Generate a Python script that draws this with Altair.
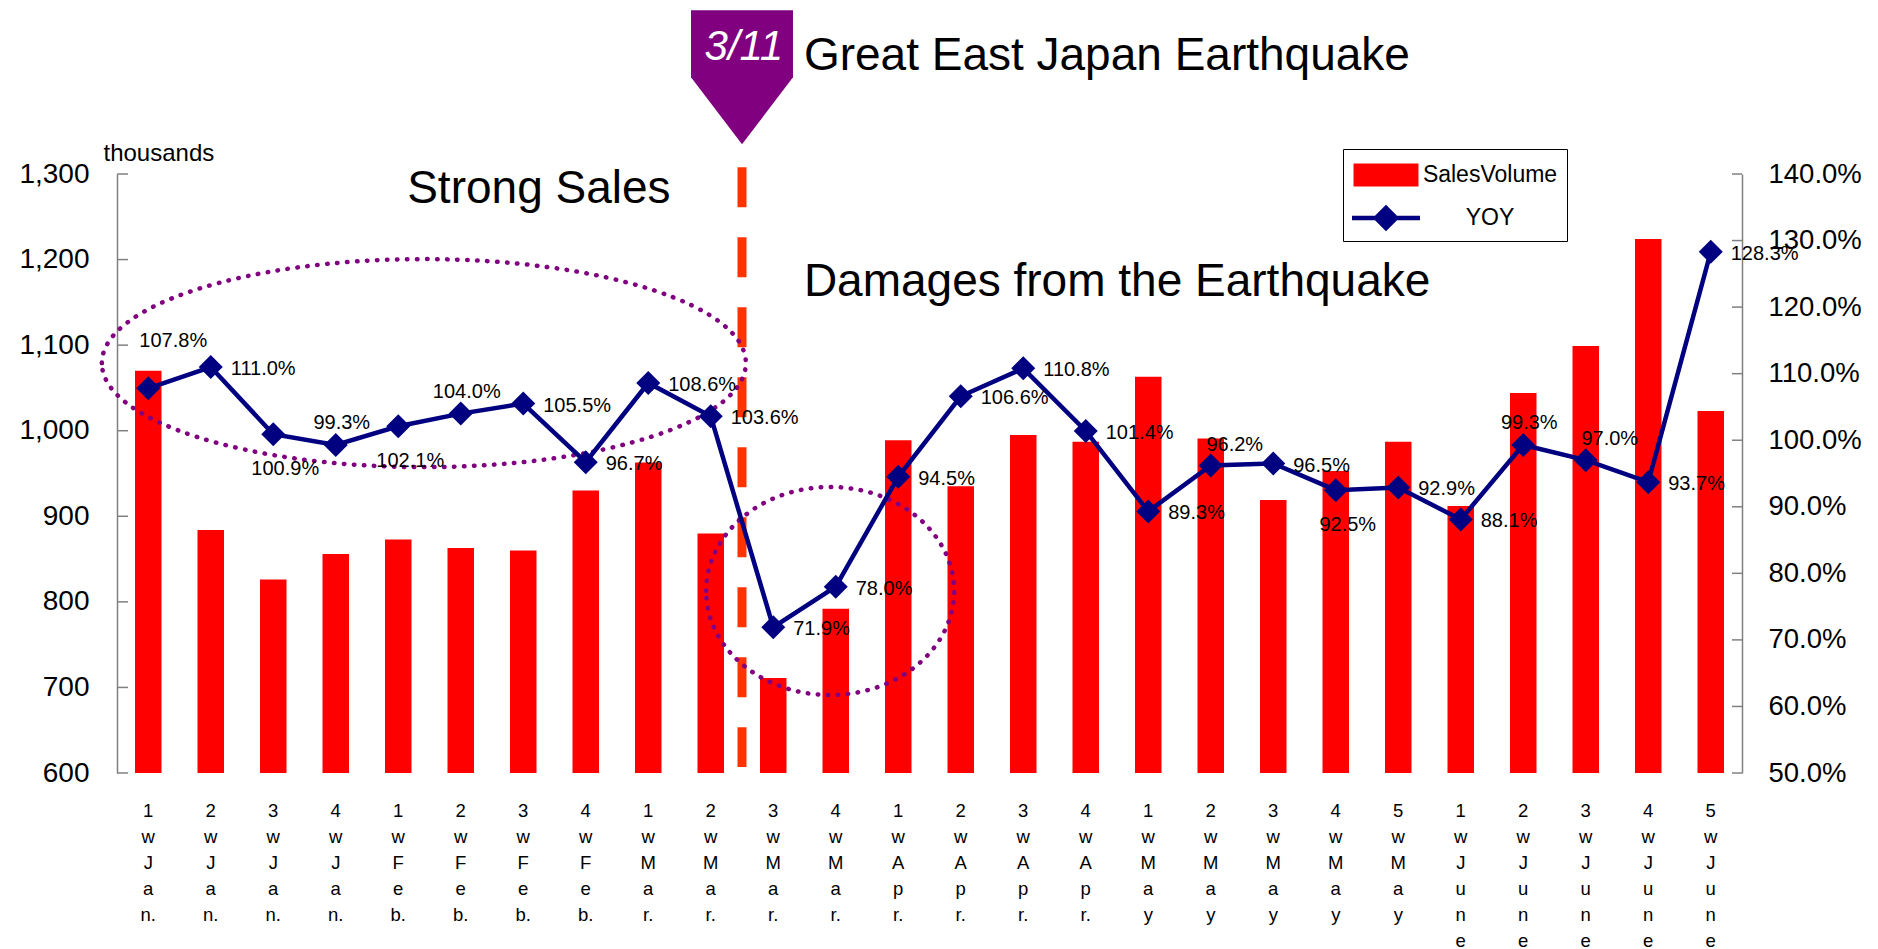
import altair as alt
import pandas as pd

# ---------------- data ----------------
WEEKS = [
    "1 w J a n.", "2 w J a n.", "3 w J a n.", "4 w J a n.",
    "1 w F e b.", "2 w F e b.", "3 w F e b.", "4 w F e b.",
    "1 w M a r.", "2 w M a r.", "3 w M a r.", "4 w M a r.",
    "1 w A p r.", "2 w A p r.", "3 w A p r.", "4 w A p r.",
    "1 w M a y", "2 w M a y", "3 w M a y", "4 w M a y", "5 w M a y",
    "1 w J u n e", "2 w J u n e", "3 w J u n e", "4 w J u n e", "5 w J u n e",
]
SALES = [1070, 884, 826, 856, 873, 863, 860, 930, 963, 880, 711, 792, 989,
         935, 995, 987, 1063, 991, 919, 953, 987, 912, 1044, 1099, 1224, 1023]
YOY = [107.8, 111.0, 100.9, 99.3, 102.1, 104.0, 105.5, 96.7, 108.6, 103.6,
       71.9, 78.0, 94.5, 106.6, 110.8, 101.4, 89.3, 96.2, 96.5, 92.5,
       92.9, 88.1, 99.3, 97.0, 93.7, 128.3]
SERIES = ["SalesVolume", "YOY"]
LEFT_TICKS = [600, 700, 800, 900, 1000, 1100, 1200, 1300]
RIGHT_TICKS = [50, 60, 70, 80, 90, 100, 110, 120, 130, 140]

# where each data label sits relative to its point
LABEL_SIDE = ["top", "right", "below", "above", "below", "above", "right",
              "right", "right", "right", "right", "right", "right", "right",
              "right", "right", "right", "above_right", "right", "below",
              "right", "right", "above", "above_right", "right", "right"]
SIDE_STYLE = {
    "right": dict(align="left", dx=20, dy=2),
    "top": dict(align="center", dx=25, dy=-47),
    "above": dict(align="center", dx=6, dy=-22),
    "above_right": dict(align="center", dx=24, dy=-21),
    "below": dict(align="center", dx=12, dy=35),
}

# annotation anchors (x: week index 0..26, y: thousands on left axis)
QUAKE_X = 10
TITLE = dict(text="Great East Japan Earthquake", x=10.99, y=1438)
STRONG = dict(text="Strong Sales", x=6.75, y=1282.5)
DAMAGE = dict(text="Damages from the Earthquake", x=10.99, y=1174)
MARKER_TEXT = dict(text="3/11", x=10.03, y=1448)
MARKER_Y = 1413
DASH_Y = (1308, 607)
ELLIPSES = [  # center x, center y, half width px, half height px
    (4.91, 1079, 322, 104),
    (11.41, 812.7, 124, 104),
]

W, H = 1625, 599
FONT = "Liberation Sans"
PURPLE = "#800080"
NAVY = "#000080"
RED = "#ff0000"
GRAY = "#808080"

df = pd.DataFrame({"week": WEEKS, "sales": SALES, "yoy": YOY, "side": LABEL_SIDE})

x_scale = alt.Scale(domain=WEEKS, paddingInner=0.576, paddingOuter=0.288)
y_left = alt.Scale(domain=[600, 1300], nice=False, zero=False)
y_right = alt.Scale(domain=[50, 140], nice=False, zero=False)
xa = alt.Scale(domain=[0, 26], nice=False, zero=False)
ya = alt.Scale(domain=[600, 1300], nice=False, zero=False)

X_AXIS = alt.Axis(
    title=None, labelExpr="split(datum.value, ' ')", labelAngle=0,
    labelFontSize=18.5, labelLineHeight=26, labelBaseline="top",
    labelPadding=28, ticks=False, domain=False, labelOverlap=False,
    labelColor="black", labelLimit=0)
LEFT_AXIS = alt.Axis(
    orient="left", values=LEFT_TICKS,
    labelExpr="format(datum.value, ',.0f')", labelFontSize=28,
    labelColor="black", labelPadding=28, ticks=False, domainColor=GRAY,
    domainWidth=1.5, grid=False, labelFlush=False, labelOverlap=False,
    title="thousands", titleAngle=0, titleAlign="left",
    titleBaseline="middle", titleX=-14, titleY=-21, titleFontSize=24,
    titleFontWeight="normal", titleColor="black")
RIGHT_AXIS = alt.Axis(
    orient="right", values=RIGHT_TICKS,
    labelExpr="format(datum.value, '.1f') + '%'", labelFontSize=27.5,
    labelColor="black", labelPadding=26, ticks=False,
    domainColor=GRAY, domainWidth=1.5, grid=False, title=None,
    labelFlush=False, labelOverlap=False)

# ---------------- left (sales) ----------------
bars = alt.Chart(df).mark_bar(color=RED).encode(
    x=alt.X("week:N", scale=x_scale, axis=X_AXIS),
    y=alt.Y("sales:Q", scale=y_left, axis=LEFT_AXIS),
    y2=alt.datum(600),
)
ticks_left = alt.Chart(pd.DataFrame({"sales": LEFT_TICKS})).mark_rule(
    color=GRAY, strokeWidth=1.5).encode(
    y=alt.Y("sales:Q", scale=y_left, axis=LEFT_AXIS),
    x=alt.value(0), x2=alt.value(11))
left = alt.layer(bars, ticks_left)

# ---------------- annotations ----------------
def pos(d):
    return alt.Chart(pd.DataFrame({"x": [d["x"]], "y": [d["y"]]}))


def enc():
    return dict(x=alt.X("x:Q", scale=xa, axis=None), y=alt.Y("y:Q", scale=ya, axis=None))


def ellipse_path(r):
    k = 0.5523
    return (f"M-1,0 C-1,{-k*r:.4f} {-k},{-r:.4f} 0,{-r:.4f} "
            f"C{k},{-r:.4f} 1,{-k*r:.4f} 1,0 "
            f"C1,{k*r:.4f} {k},{r:.4f} 0,{r:.4f} "
            f"C{-k},{r:.4f} -1,{k*r:.4f} -1,0 Z")


dash = alt.Chart(pd.DataFrame({"x": [QUAKE_X], "y": [DASH_Y[0]], "y2": [DASH_Y[1]]})).mark_rule(
    color="#ff3300", strokeWidth=9, strokeDash=[40, 30]).encode(**enc(), y2="y2:Q")

PENT = "M-0.761,-1 L0.761,-1 L0.761,0 L0,1 L-0.761,0 Z"
marker = pos({"x": QUAKE_X, "y": MARKER_Y}).mark_point(
    shape=PENT, size=134 ** 2, filled=True, color=PURPLE, opacity=1,
    strokeWidth=0).encode(**enc())
marker_text = pos(MARKER_TEXT).mark_text(
    text=MARKER_TEXT["text"], fontSize=42, fontStyle="italic", color="white",
    align="center", baseline="middle").encode(**enc())
title = pos(TITLE).mark_text(text=TITLE["text"], fontSize=46, color="black",
                             align="left", baseline="middle").encode(**enc())
strong = pos(STRONG).mark_text(text=STRONG["text"], fontSize=46, color="black",
                               align="center", baseline="middle").encode(**enc())
damage = pos(DAMAGE).mark_text(text=DAMAGE["text"], fontSize=46, color="black",
                               align="left", baseline="middle").encode(**enc())

ells = []
for cx, cy, rx, ry in ELLIPSES:
    ells.append(pos({"x": cx, "y": cy}).mark_point(
        shape=ellipse_path(ry / rx), size=(2 * rx) ** 2, filled=False,
        color=PURPLE, strokeWidth=4.5, strokeDash=[0.5, 9.5], strokeCap="round",
        opacity=1).encode(**enc()))

RECT_SYM = "M-1.91,-0.68 L1.91,-0.68 L1.91,0.68 L-1.91,0.68 Z"
LINE_SYM = ("M-2,-0.13 L2,-0.13 L2,0.13 L-2,0.13 Z "
            "M0,-0.78 L0.78,0 L0,0.78 L-0.78,0 Z")
LEG = dict(title=None, orient="none", legendX=1226, legendY=-25,
           symbolSize=1156, symbolOffset=17, symbolStrokeWidth=0,
           labelOffset=87, labelAlign="center", labelFontSize=23,
           labelColor="black", labelLimit=0, padding=9, rowPadding=14,
           strokeColor="black", fillColor="white")
legend_layer = alt.Chart(pd.DataFrame({"series": SERIES})).transform_filter(
    "datum.series == 'none'").mark_point(filled=True, opacity=1).encode(
    color=alt.Color("series:N", scale=alt.Scale(domain=SERIES, range=[RED, NAVY]),
                    legend=alt.Legend(**LEG)),
    shape=alt.Shape("series:N", scale=alt.Scale(domain=SERIES, range=[RECT_SYM, LINE_SYM]),
                    legend=alt.Legend(**LEG)),
)

annot = alt.layer(dash, *ells, marker, marker_text, title, strong, damage, legend_layer)

# ---------------- right (YOY) ----------------
xr = alt.X("week:N", scale=x_scale, axis=None)
yr = alt.Y("yoy:Q", scale=y_right, axis=RIGHT_AXIS)
line = alt.Chart(df).mark_line(color=NAVY, strokeWidth=4.5).encode(x=xr, y=yr)
points = alt.Chart(df).mark_point(shape="diamond", filled=True, size=576,
                                  color=NAVY, opacity=1).encode(x=xr, y=yr)
label_layers = []
for side, st in SIDE_STYLE.items():
    label_layers.append(
        alt.Chart(df).transform_filter(alt.datum.side == side)
        .transform_calculate(label="format(datum.yoy, '.1f') + '%'")
        .mark_text(fontSize=20, color="black", baseline="middle", **st)
        .encode(x=xr, y=yr, text="label:N"))
ticks_right = alt.Chart(pd.DataFrame({"yoy": RIGHT_TICKS})).mark_rule(
    color=GRAY, strokeWidth=1.5).encode(
    y=yr, x=alt.value(W - 10), x2=alt.value(W))
right = alt.layer(line, points, *label_layers, ticks_right)

chart = alt.layer(left, annot, right).resolve_scale(
    x="independent", y="independent", color="independent", shape="independent"
).properties(
    width=W, height=H,
    autosize=alt.AutoSizeParams(type="none"),
    padding={"left": 117, "top": 174, "right": 136, "bottom": 176},
).configure(font=FONT, background="white").configure_view(stroke=None)

chart.save("out.html", embed_options={"renderer": "svg", "actions": False})
